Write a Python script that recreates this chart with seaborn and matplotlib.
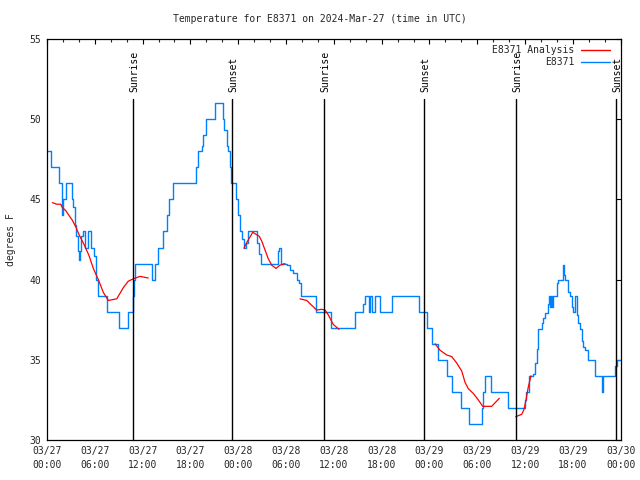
import numpy as np
import pandas as pd
import matplotlib
matplotlib.use("Agg")
import matplotlib.pyplot as plt
import seaborn as sns

# ---- data (hours since 03/27 00:00 UTC, degrees F) ----
obs_hours = [0.13, 0.54, 1.5, 1.88, 1.92, 2.05, 2.38, 3.1, 3.3, 3.48, 3.68, 3.89, 4.02, 4.14,
             4.3, 4.46, 4.79, 5.18, 5.55, 5.9, 6.09, 6.2, 6.34, 7.49, 9.04, 10.2, 10.75, 10.83,
             10.98, 11.1, 12.95, 13.2, 13.55, 13.97, 14.6, 15.0, 15.35, 15.8, 18.64, 19.0, 19.39,
             19.62, 19.92, 21.08, 22.03, 22.25, 22.53, 22.72, 22.97, 23.13, 23.72, 23.91, 24.16,
             24.43, 24.7, 25.0, 25.2, 26.32, 26.64, 26.82, 29.05, 29.17, 29.42, 30.18, 30.5,
             30.91, 31.34, 31.63, 31.94, 33.7, 35.64, 38.68, 39.7, 39.91, 40.41, 40.57, 40.83,
             41.16, 41.73, 43.34, 46.66, 47.63, 48.38, 49.05, 50.14, 50.89, 51.9, 52.9, 54.6,
             54.78, 54.97, 55.66, 57.9, 59.97, 60.12, 60.47, 61.03, 61.24, 61.46, 61.66, 62.08,
             62.29, 62.5, 62.91, 63.04, 63.15, 63.25, 63.38, 63.54, 63.97, 64.17, 64.72, 64.8,
             64.92, 65.05, 65.43, 65.64, 65.85, 66.05, 66.27, 66.48, 66.68, 66.89, 67.1, 67.31,
             67.52, 67.93, 68.77, 69.61, 69.81, 71.29, 71.5, 71.97]
obs_temps = [48, 47, 46, 45, 44, 45, 46, 45, 44.5, 43.4, 42.7, 41.8, 41.2, 41.8,
             42.7, 43, 42, 43, 42, 41.5, 41, 40, 39, 38, 37, 38, 38.5, 39,
             40, 41, 41, 40, 41, 42, 43, 44, 45, 46, 47, 48, 48.3,
             49, 50, 51, 50, 49.3, 48.3, 48, 47, 46, 45, 44, 43,
             42.5, 42, 42.3, 43, 42.3, 41.6, 41, 41.8, 42, 41, 40.9, 40.6,
             40.4, 40, 39.8, 39, 38, 37, 38, 38.5, 39, 38, 39, 38,
             39, 38, 39, 38, 37, 36, 35, 34, 33, 32, 31, 32,
             33, 34, 33, 32, 32.5, 33, 34, 34.1, 34.8, 35.7, 36.9, 37.3,
             37.6, 37.9, 38.5, 39, 38.3, 39, 38.3, 39, 39.8, 40, 40.3, 40.9,
             40.3, 40, 39.2, 39, 38.3, 38, 39, 37.8, 37.3, 36.9, 36.2, 35.8,
             35.6, 35, 34, 33, 34, 34.6, 35, 35]

ana_seg1_h = [0.67, 1.22, 1.72, 1.92, 2.35, 2.76, 3.18, 3.6, 4.02, 4.64, 5.27, 5.81, 6.44,
              7.07, 7.69, 8.75, 9.58, 10.2, 10.83, 11.67, 12.71]
ana_seg1_t = [44.8, 44.7, 44.7, 44.5, 44.3, 44.0, 43.7, 43.3, 42.8, 42.2, 41.5, 40.7, 40.0,
              39.2, 38.7, 38.8, 39.5, 39.9, 40.05, 40.2, 40.1]
ana_seg2_h = [24.72, 25.06, 25.82, 26.64, 26.95, 27.36, 27.77, 28.2, 28.74, 29.24, 29.87]
ana_seg2_t = [41.95, 42.3, 42.95, 42.7, 42.4, 41.85, 41.3, 40.9, 40.7, 40.9, 41.0]
ana_seg3_h = [31.75, 32.59, 33.22, 33.85, 34.48, 34.89, 35.3, 35.93, 36.65]
ana_seg3_t = [38.8, 38.7, 38.4, 38.1, 38.15, 38.1, 37.8, 37.2, 36.9]
ana_seg4_h = [48.7, 49.32, 50.16, 50.79, 51.42, 52.05, 52.46, 52.87, 53.5, 54.13, 54.68,
              55.81, 56.77]
ana_seg4_t = [36.0, 35.6, 35.3, 35.2, 34.8, 34.3, 33.6, 33.2, 32.9, 32.5, 32.1, 32.1, 32.6]
ana_seg5_h = [58.82, 59.58, 59.86, 60.12, 60.4, 60.74]
ana_seg5_t = [31.45, 31.6, 31.9, 32.5, 33.3, 34.0]

sun_events = ["Sunrise", "Sunset", "Sunrise", "Sunset", "Sunrise", "Sunset"]
sun_hours = [10.83, 23.26, 34.8, 47.35, 58.85, 71.37]

tick_hours = list(range(0, 73, 6))
tick_labels = ["03/27\n00:00", "03/27\n06:00", "03/27\n12:00", "03/27\n18:00",
               "03/28\n00:00", "03/28\n06:00", "03/28\n12:00", "03/28\n18:00",
               "03/29\n00:00", "03/29\n06:00", "03/29\n12:00", "03/29\n18:00",
               "03/30\n00:00"]
title = "Temperature for E8371 on 2024-Mar-27 (time in UTC)"

# ---- frames ----
obs = pd.DataFrame({"hour": obs_hours, "temp": obs_temps})
segs = [(ana_seg1_h, ana_seg1_t), (ana_seg2_h, ana_seg2_t), (ana_seg3_h, ana_seg3_t),
        (ana_seg4_h, ana_seg4_t), (ana_seg5_h, ana_seg5_t)]
ana = pd.concat([pd.DataFrame({"hour": h, "temp": t, "seg": i}) for i, (h, t) in enumerate(segs)],
                ignore_index=True)

sns.set_style("white")
plt.rcParams["font.family"] = ["DejaVu Sans Mono", "DejaVu Sans"]
plt.rcParams["font.size"] = 7

BLUE = "#0080ff"
RED = "#ff0000"

fig = plt.figure(figsize=(6.4, 4.8), dpi=100)
ax = fig.add_axes([47 / 640, 40 / 480, 573.7 / 640, 401 / 480])

sns.lineplot(data=ana, x="hour", y="temp", units="seg", estimator=None, color=RED,
             lw=0.9, ax=ax, legend=False, zorder=3)
sns.lineplot(data=obs, x="hour", y="temp", color=BLUE, lw=1.0, ax=ax, legend=False,
             drawstyle="steps-post", zorder=2)

for ev, h in zip(sun_events, sun_hours):
    ax.axvline(h, ymin=0, ymax=0.85, color="black", lw=1.0, zorder=4)
    ax.text(h + 0.15, 55 - 25 * 0.132, ev, rotation=90, ha="center", va="bottom",
            fontsize=7, color="black")

ax.set_xlim(0, 72)
ax.set_ylim(30, 55)
ax.set_xticks(tick_hours)
ax.set_xticklabels(tick_labels, linespacing=1.5)
ax.set_xticks(np.arange(0, 73, 2), minor=True)
ax.set_yticks([30, 35, 40, 45, 50, 55])
ax.tick_params(axis="both", which="major", direction="in", length=3.6, width=0.8,
               top=True, right=True, pad=4, labelsize=7, color="black")
ax.tick_params(axis="x", which="minor", direction="in", length=2, width=0.8, top=True)
for s in ax.spines.values():
    s.set_linewidth(0.9)
    s.set_color("black")
    s.set_visible(True)

ax.set_xlabel("")
ax.set_ylabel("degrees F", fontsize=7, labelpad=10)
fig.text(0.5, 1 - 19 / 480, title, ha="center", va="center", fontsize=7)

# legend drawn manually (gnuplot style: right-aligned text, sample to the right)
ax.text(0.9186, 0.9726, "E8371 Analysis", transform=ax.transAxes, ha="right", va="center", fontsize=7)
ax.text(0.9186, 0.9426, "E8371", transform=ax.transAxes, ha="right", va="center", fontsize=7)
ax.plot([0.931, 0.981], [0.9726, 0.9726], transform=ax.transAxes, color=RED, lw=1.0)
ax.plot([0.931, 0.981], [0.9426, 0.9426], transform=ax.transAxes, color=BLUE, lw=1.0)

fig.savefig("out.png", dpi=100)
